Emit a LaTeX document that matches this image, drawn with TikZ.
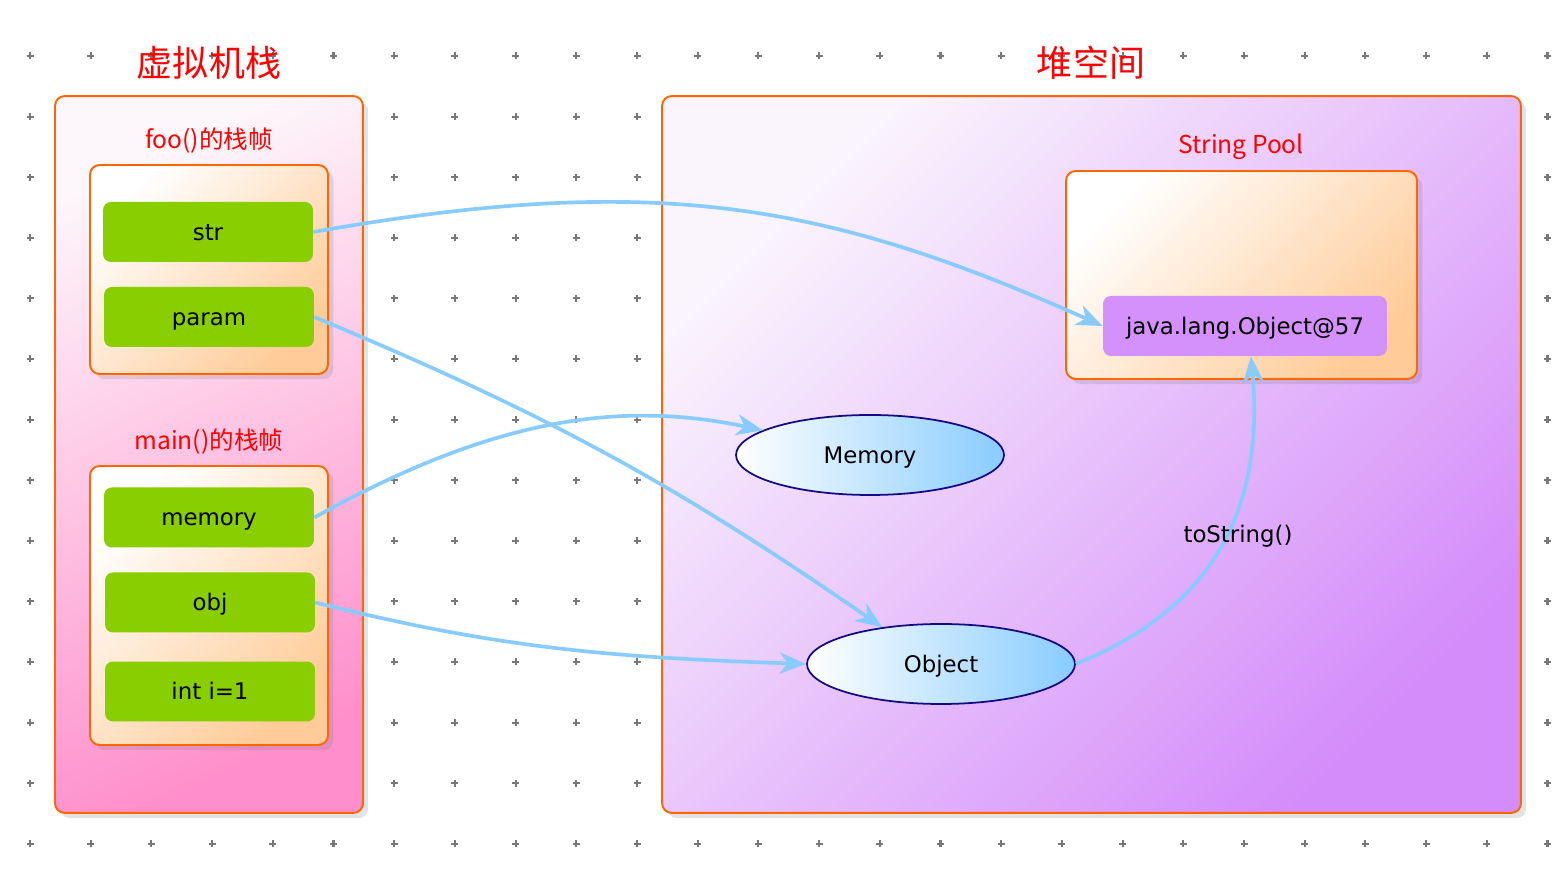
\documentclass[tikz,border=0pt]{standalone}
\usepackage{fontspec}
\setmainfont{DejaVu Sans}
\newfontfamily\cjk{Noto Sans CJK SC}
\usetikzlibrary{arrows.meta,shadows,shapes.geometric}

\definecolor{boxorange}{RGB}{255,102,0}
\definecolor{slotgreen}{RGB}{136,206,0}
\definecolor{objviolet}{RGB}{212,145,252}
\definecolor{linkblue}{RGB}{136,204,255}
\definecolor{ovalnavy}{RGB}{20,10,130}
\definecolor{stackpink}{RGB}{255,143,204}
\definecolor{heappurple}{RGB}{212,140,250}
\definecolor{framepeach}{RGB}{255,204,153}
\definecolor{gridgray}{RGB}{120,120,120}

\tikzset{
  area/.style={draw=boxorange, line width=1.1pt, rounded corners=5.5pt,
    drop shadow={opacity=0.22, shadow xshift=3pt, shadow yshift=-3pt}},
  framebox/.style={area, top color=white, bottom color=framepeach, shading angle=45},
  label text/.style={font=\fontsize{13}{15}\selectfont, text height=11.5pt, text depth=2.2pt},
  slot/.style={fill=slotgreen, rounded corners=4.5pt, minimum width=4.2cm,
    minimum height=1.2cm, label text},
  oval/.style={ellipse, draw=ovalnavy, line width=1pt, left color=white,
    right color=linkblue, minimum width=5.36cm, minimum height=1.6cm, label text},
  title/.style={text=red, font=\cjk\fontsize{20.5}{24}\selectfont},
  caption/.style={text=red, font=\cjk\fontsize{14}{17}\selectfont},
  link/.style={draw=linkblue, line width=2.1pt,
    -{Stealth[length=15pt,width=12pt,inset=4.5pt]}}
}

\begin{document}
\begin{tikzpicture}[x=0.02cm,y=0.02cm]
\useasboundingbox (0,0) rectangle (1564,878);

% dotted background
\foreach \i in {0,...,25}
  \foreach \j in {0,...,13}
    \draw[gridgray, line width=1.2pt]
      (30+60.7*\i-3.5, 822-60.6*\j) -- ++(7,0)
      (30+60.7*\i, 822-60.6*\j-3.5) -- ++(0,7);

% titles
\node[title] (vmtitle) at (209,815) {虚拟机栈};
\node[title] (heaptitle) at (1091,815) {堆空间};

% stack side
\node[area, top color={rgb,255:red,253;green,246;blue,250}, bottom color=stackpink,
  shading angle=25, minimum width=6.16cm, minimum height=14.34cm] (stackbox) at (209,423.5) {};
\node[caption] (foolabel) at (209,737) {foo()的栈帧};
\node[framebox, minimum width=4.76cm, minimum height=4.18cm] (fooframe) at (209,608.5) {};
\node[slot] (str) at (208,646) {str};
\node[slot] (param) at (209,561) {param};

\node[caption] (mainlabel) at (209,436) {main()的栈帧};
\node[framebox, minimum width=4.76cm, minimum height=5.58cm] (mainframe) at (209,272.5) {};
\node[slot] (memory) at (209,360.5) {memory};
\node[slot] (obj) at (210,275.5) {obj};
\node[slot] (inti) at (210,186.5) {int i=1};

% heap side
\node[area, top color={rgb,255:red,250;green,245;blue,252}, bottom color=heappurple,
  shading angle=45, minimum width=17.18cm, minimum height=14.34cm] (heapbox) at (1091.5,423.5) {};
\node[caption] (poollabel) at (1241,731) {String Pool};
\node[framebox, minimum width=7.02cm, minimum height=4.16cm] (poolbox) at (1241.5,603) {};
\node[fill=objviolet, rounded corners=4.5pt, minimum width=5.68cm, minimum height=1.2cm,
  label text] (javaobj) at (1245,552) {java.lang.Object@57};

\node[oval] (memoryobj) at (870,423) {Memory};
\node[oval] (objectobj) at (941,214) {Object};

% references
\draw[link] (str.east) .. controls +(345,61) and +(-274,122) .. (javaobj.west);
\draw[link] (param.east) to[bend left=6] (objectobj.148);
\draw[link] (memory.east) .. controls +(175,97) and +(-147,31) .. (memoryobj.167);
\draw[link] (obj.east) to[out=-14,in=178] (objectobj.west);
\draw[link] (objectobj.east) .. controls +(111,45) and +(16,-180) .. ([xshift=0.12cm]javaobj.south);
\node[font=\fontsize{13}{15}\selectfont] (tostr) at (1238,342) {toString()};

\end{tikzpicture}
\end{document}
